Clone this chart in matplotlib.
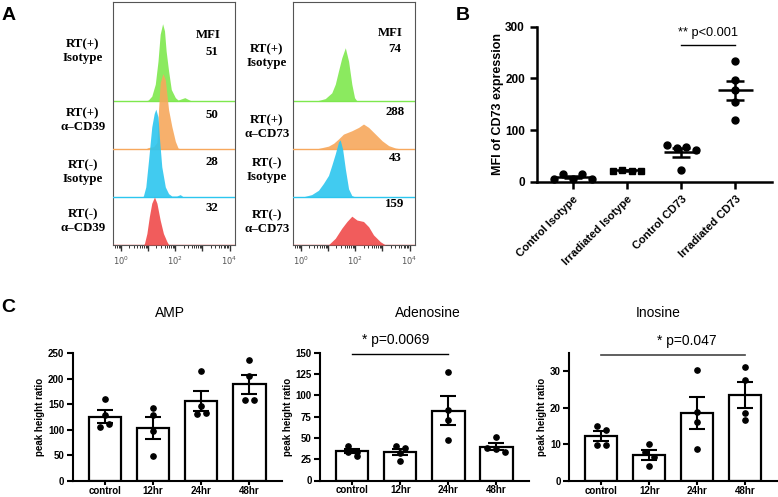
import numpy as np
import matplotlib
matplotlib.use("Agg")
import matplotlib.pyplot as plt

plt.rcParams["font.family"] = ["Liberation Sans", "DejaVu Sans"]

# ---- Panel A: flow histograms (x in log10 fluorescence, h in row heights) ----
cd39_green_x = [0.9, 1.0, 1.13, 1.26, 1.36, 1.44, 1.53, 1.60, 1.66, 1.75, 1.85, 2.0, 2.1, 2.25, 2.35, 2.45, 2.6]
cd39_green_h = [0, 0.02, 0.1, 0.35, 0.83, 1.39, 1.61, 1.46, 1.04, 0.63, 0.24, 0.07, 0.02, 0.05, 0.07, 0.04, 0]
cd39_orange_x = [0.9, 1.0, 1.2, 1.32, 1.38, 1.44, 1.54, 1.63, 1.75, 1.87, 2.0, 2.1, 2.2]
cd39_orange_h = [0, 0.03, 0.05, 0.14, 0.82, 1.38, 1.57, 1.44, 0.82, 0.47, 0.16, 0.02, 0]
cd39_blue_x = [0.78, 0.82, 0.91, 1.01, 1.13, 1.22, 1.28, 1.36, 1.42, 1.5, 1.63, 1.75, 1.87, 2.05, 2.18, 2.3]
cd39_blue_h = [0, 0.02, 0.21, 0.76, 1.46, 1.74, 1.83, 1.67, 1.18, 0.63, 0.21, 0.07, 0.02, 0.02, 0.05, 0]
cd39_red_x = [0.82, 0.86, 0.95, 1.04, 1.13, 1.23, 1.32, 1.44, 1.56, 1.69, 1.76]
cd39_red_h = [0, 0.03, 0.24, 0.59, 0.87, 1.0, 0.87, 0.52, 0.24, 0.07, 0]

cd73_green_x = [0.55, 0.7, 0.89, 1.13, 1.26, 1.38, 1.5, 1.63, 1.75, 1.87, 1.97, 2.06]
cd73_green_h = [0, 0.02, 0.05, 0.17, 0.35, 0.63, 0.9, 1.11, 0.83, 0.35, 0.07, 0]
cd73_orange_x = [0.55, 1.01, 1.2, 1.38, 1.56, 1.87, 2.12, 2.3, 2.49, 2.74, 2.99, 3.23, 3.48, 3.7]
cd73_orange_h = [0, 0.06, 0.12, 0.21, 0.31, 0.38, 0.45, 0.52, 0.45, 0.31, 0.17, 0.07, 0.02, 0]
cd73_blue_x = [0.05, 0.39, 0.64, 0.82, 1.01, 1.13, 1.26, 1.38, 1.44, 1.53, 1.63, 1.75, 1.87, 2.0]
cd73_blue_h = [0, 0.05, 0.14, 0.28, 0.45, 0.66, 0.9, 1.15, 1.19, 1.0, 0.59, 0.17, 0.03, 0]
cd73_red_x = [1.0, 1.26, 1.5, 1.69, 1.87, 2.06, 2.3, 2.49, 2.67, 2.92, 3.11]
cd73_red_h = [0, 0.14, 0.35, 0.49, 0.6, 0.52, 0.49, 0.38, 0.21, 0.07, 0]

cd39_labels = ["RT(+)\nIsotype", "RT(+)\nα\u2013CD39", "RT(-)\nIsotype", "RT(-)\nα\u2013CD39"]
cd73_labels = ["RT(+)\nIsotype", "RT(+)\nα\u2013CD73", "RT(-)\nIsotype", "RT(-)\nα\u2013CD73"]
cd39_mfi = ["51", "50", "28", "32"]
cd73_mfi = ["74", "288", "43", "159"]

# ---- Panel B ----
b_groups = ["Control Isotype", "Irradiated Isotype", "Control CD73", "Irradiated CD73"]
b_values = [
    [5, 15, 6, 16, 5],
    [22, 23, 22, 22],
    [71, 65, 67, 62, 24],
    [233, 198, 178, 155, 120],
]

# ---- Panel C ----
times = ["control", "12hr", "24hr", "48hr"]
amp = [[160, 129, 105, 111], [143, 129, 97, 48], [216, 147, 131, 134], [236, 205, 158, 158]]
adenosine = [[41, 34, 33, 29], [41, 38, 32, 23], [127, 83, 71, 47], [51, 38, 37, 33]]
inosine = [[15.1, 14.0, 9.9, 9.9], [10.1, 8.0, 6.5, 4.0], [30.4, 19.0, 16.2, 8.8], [31.2, 27.7, 18.7, 16.7]]

W, H = 778, 497
fig = plt.figure(figsize=(W / 100, H / 100), dpi=100)


def box(l, t, r, b):
    return [l / W, 1 - b / H, (r - l) / W, (b - t) / H]


def ftext(x, y, s, **kw):
    fig.text(x / W, 1 - y / H, s, **kw)


def swarm(ax, center, vals, gap_px, thr_px):
    # prism-like rows: values close in pixels share a row and are spread sideways
    x0, x1 = ax.get_xlim()
    y0, y1 = ax.get_ylim()
    sx = ax.bbox.width / (x1 - x0)
    sy = ax.bbox.height / (y1 - y0)
    order = sorted(range(len(vals)), key=lambda i: -vals[i])
    rows = []
    for i in order:
        if rows and abs(vals[rows[-1][0]] - vals[i]) * sy < thr_px:
            rows[-1].append(i)
        else:
            rows.append([i])
    xs = [center] * len(vals)
    for row in rows:
        row = sorted(row)
        n = len(row)
        for k, i in enumerate(row):
            xs[i] = center + (k - (n - 1) / 2) * gap_px / sx
    return xs


# ---- A ----
colors = ["#7ee84e", "#f7a85c", "#2cc6ef", "#f04a4a"]
serif = dict(family="Liberation Serif", weight="bold", fontsize=9.3)

hist_sets = [
    (box(113, 2, 235, 245),
     [(cd39_green_x, cd39_green_h), (cd39_orange_x, cd39_orange_h),
      (cd39_blue_x, cd39_blue_h), (cd39_red_x, cd39_red_h)]),
    (box(293, 2, 415, 245),
     [(cd73_green_x, cd73_green_h), (cd73_orange_x, cd73_orange_h),
      (cd73_blue_x, cd73_blue_h), (cd73_red_x, cd73_red_h)]),
]
minor = [d + np.log10(k) for d in range(-1, 5) for k in range(2, 10)]
minor = [m for m in minor if -0.3 < m < 4.2]
for pos, curves in hist_sets:
    ax = fig.add_axes(pos)
    for row, ((xv, hv), c) in enumerate(zip(curves, colors)):
        off = 3 - row
        ax.fill_between(xv, off, off + np.array(hv), color=c, alpha=0.9, lw=0, zorder=2 + row)
        ax.axhline(off, color=c, lw=1.0, zorder=2 + row)
    ax.set_xlim(-0.3, 4.2)
    ax.set_ylim(0, 243 / 48)
    ax.set_yticks([])
    ax.set_xticks([0, 1, 2, 3, 4])
    ax.set_xticklabels(["$10^0$", "", "$10^2$", "", "$10^4$"], fontsize=6, color="#555555")
    ax.set_xticks(minor, minor=True)
    ax.tick_params(axis="x", which="major", length=4, width=1.0, color="#333333", pad=3)
    ax.tick_params(axis="x", which="minor", length=2, width=0.7, color="#333333")
    for s in ax.spines.values():
        s.set_color("#555555")
        s.set_linewidth(0.8)

for lab, y in zip(cd39_labels, [51, 120, 172, 221]):
    ftext(83, y, lab, ha="center", va="center", linespacing=1.25, **serif)
for lab, y in zip(cd73_labels, [56, 127, 170, 222]):
    ftext(267, y, lab, ha="center", va="center", linespacing=1.25, **serif)
ftext(208, 35, "MFI", ha="center", va="center", **serif)
for m, y in zip(cd39_mfi, [52, 115, 162, 208]):
    ftext(212, y, m, ha="center", va="center", **serif)
ftext(390, 33, "MFI", ha="center", va="center", **serif)
for m, y in zip(cd73_mfi, [49, 112, 158, 204]):
    ftext(395, y, m, ha="center", va="center", **serif)

ftext(9, 15, "A", ha="center", va="center", fontsize=14, weight="bold")
ftext(463, 15, "B", ha="center", va="center", fontsize=14, weight="bold")
ftext(8, 307, "C", ha="center", va="center", fontsize=14, weight="bold")

# ---- B ----
axB = fig.add_axes(box(536.7, 26.7, 771.7, 182))
axB.set_xlim(-0.67, 3.67)
axB.set_ylim(0, 300)
for i, vals in enumerate(b_values):
    xs = swarm(axB, i, vals, 9.5, 6)
    mk = "s" if i == 1 else "o"
    axB.plot(xs, vals, mk, color="black", ms=5, zorder=3, clip_on=False)
    m = np.mean(vals)
    se = np.std(vals, ddof=1) / np.sqrt(len(vals))
    axB.hlines(m, i - 0.32, i + 0.32, color="black", lw=1.8, zorder=4)
    axB.errorbar(i, m, yerr=se, fmt="none", ecolor="black", elinewidth=1.8,
                 capsize=6.5, capthick=1.8, zorder=4)
axB.plot([2, 3], [264, 264], color="black", lw=1.0, clip_on=False)
axB.text(2.5, 288, "** p<0.001", ha="center", va="center", fontsize=9.2)
axB.set_xticks(range(4))
axB.set_xticklabels(b_groups, rotation=45, ha="right", rotation_mode="anchor",
                    fontsize=8, weight="bold")
axB.set_yticks([0, 100, 200, 300])
axB.set_yticklabels(["0", "100", "200", "300"], fontsize=8.5, weight="bold")
axB.set_ylabel("MFI of CD73 expression", fontsize=9, weight="bold", labelpad=1)
axB.tick_params(length=5, width=1.8)
for s in ["top", "right"]:
    axB.spines[s].set_visible(False)
for s in ["left", "bottom"]:
    axB.spines[s].set_linewidth(1.8)

# ---- C ----
c_specs = [
    ("AMP", amp, box(72.7, 353.3, 281.7, 481), 250, range(0, 251, 50), 170),
    ("Adenosine", adenosine, box(320, 352.7, 528.7, 480.5), 150, range(0, 151, 25), 428),
    ("Inosine", inosine, box(569.3, 353, 777, 481), 35, range(0, 31, 10), 658),
]
c_axes = []
for title, data, pos, top, ticks, tx in c_specs:
    ax = fig.add_axes(pos)
    ax.set_xlim(-0.67, 3.67)
    ax.set_ylim(0, top)
    means = [np.mean(v) for v in data]
    sems = [np.std(v, ddof=1) / np.sqrt(len(v)) for v in data]
    ax.bar(range(4), means, width=0.67, color="white", edgecolor="black", lw=1.6, zorder=2)
    ax.errorbar(range(4), means, yerr=sems, fmt="none", ecolor="black", elinewidth=1.5,
                capsize=6, capthick=1.5, zorder=4)
    for i, vals in enumerate(data):
        xs = swarm(ax, i, vals, 9, 6)
        ax.plot(xs, vals, "o", color="black", ms=3.8, zorder=5, clip_on=False)
    ax.set_xticks(range(4))
    ax.set_xticklabels(times, fontsize=7, weight="bold")
    ax.set_yticks(list(ticks))
    ax.set_yticklabels([str(t) for t in ticks], fontsize=7, weight="bold")
    ax.set_ylabel("peak height ratio", fontsize=7, weight="bold", labelpad=2)
    ax.tick_params(axis="y", length=4, width=1.5, pad=2)
    ax.tick_params(axis="x", length=3, width=1.5, pad=0.5)
    for s in ["top", "right"]:
        ax.spines[s].set_visible(False)
    for s in ["left", "bottom"]:
        ax.spines[s].set_linewidth(1.5)
    ftext(tx, 313, title, ha="center", va="center", fontsize=10)
    c_axes.append(ax)

c_axes[1].plot([0, 2], [148.4, 148.4], color="black", lw=1.0, clip_on=False)
c_axes[1].text(0.9, 165, "* p=0.0069", ha="center", va="center", fontsize=10, clip_on=False)
c_axes[2].plot([0, 3], [34.5, 34.5], color="#444444", lw=1.2, clip_on=False)
c_axes[2].text(1.78, 38.3, "* p=0.047", ha="center", va="center", fontsize=10, clip_on=False)

fig.savefig("out.png", dpi=100)
